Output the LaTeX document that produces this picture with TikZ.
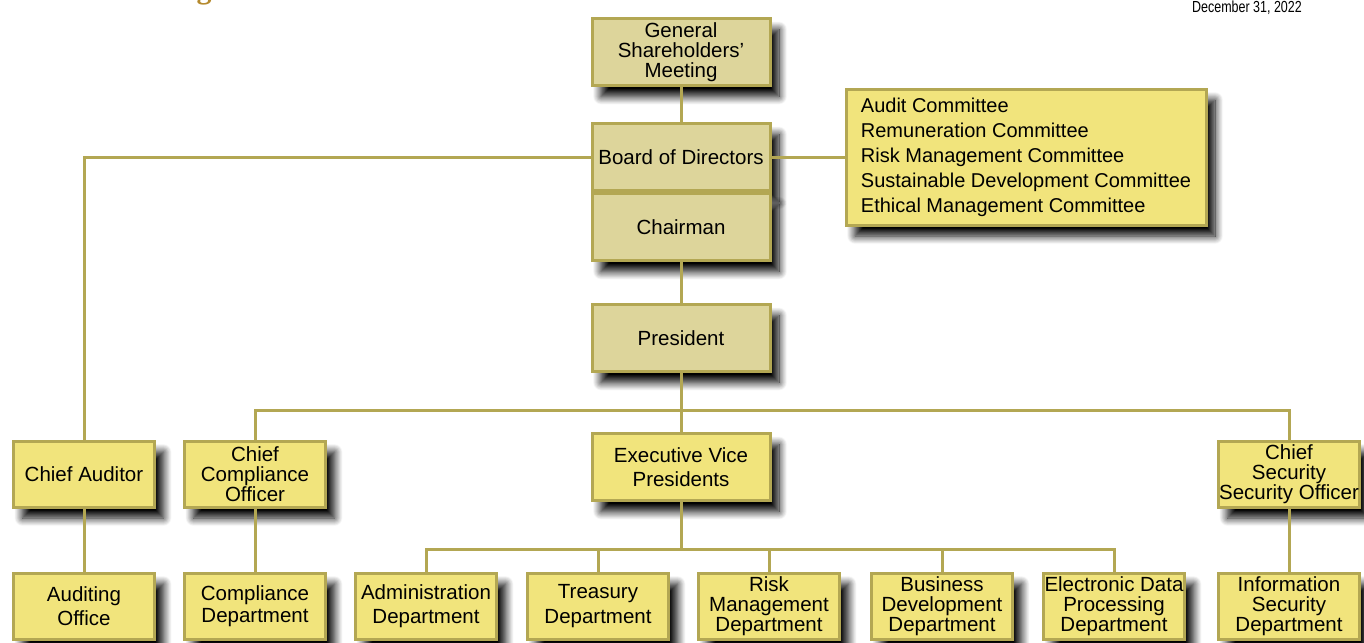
\documentclass[tikz,border=0pt]{standalone}
\usepackage{fontspec}
\setmainfont{Liberation Sans}
\newfontfamily\headfont{Liberation Serif}
\usetikzlibrary{shadows.blur}
\definecolor{boxYellow}{HTML}{F1E47C}
\definecolor{boxTan}{HTML}{DDD59B}
\definecolor{boxEdge}{HTML}{B3A753}
\definecolor{headGold}{HTML}{B58A2E}

\begin{document}
\begin{tikzpicture}[x = 1pt, y = -1pt,
		unit/.style = {draw = boxEdge, line width = 3pt, fill = boxYellow, inner sep = 0pt, align = center,
			font = \fontsize{20.5}{24.5}\selectfont,
			blur shadow = {shadow xshift = 9pt, shadow yshift = -11pt, shadow blur radius = 8pt, shadow blur steps = 14, shadow opacity = 100}},
		wide/.style = {unit, minimum width = 178pt, minimum height = 67pt},
		top/.style = {wide, fill = boxTan},
		dept/.style = {unit, minimum width = 141pt, minimum height = 66pt},
		tight/.style = {font = \fontsize{20.5}{20}\selectfont},
		link/.style = {draw = boxEdge, line width = 3pt}]
		\useasboundingbox (0, 0) rectangle (1364, 642);
		%%%%%%%%%%%%%
		\node [anchor = base, inner sep = 0pt, text = headGold, font = \headfont\bfseries\fontsize{30}{30}\selectfont] (head) at (204, -1) {g};
		\node [anchor = north east, inner sep = 0pt, font = \fontsize{16}{16}\selectfont] (date) at (1302, 1) {\scalebox{0.78}[1]{December 31, 2022}};
		%%%%%%%%%%%%%
		\node [top, tight] (gsm) at (681, 52) {General\\Shareholders'\\Meeting};
		\node [top] (board) at (681, 157) {Board of Directors};
		\node [top] (chair) at (681, 227) {Chairman};
		\node [top] (pres) at (681, 338) {President};
		\node [unit, minimum width = 360pt, minimum height = 136pt, align = left, font = \fontsize{20}{25}\selectfont] (comm) at (1026, 157) {Audit Committee\\Remuneration Committee\\Risk Management Committee\\Sustainable Development Committee\\Ethical Management Committee};
		%%%%%%%%%%%%%
		\node [dept] (audit) at (84, 474) {Chief Auditor};
		\node [dept, tight] (cco) at (255, 474) {Chief\\Compliance\\Officer};
		\node [wide] (evp) at (681, 467) {Executive Vice\\Presidents};
		\node [dept, tight] (cso) at (1289, 474) {Chief\\Security\\Security Officer};
		%%%%%%%%%%%%%
		\node [dept] (audoff) at (84, 606) {Auditing\\Office};
		\node [dept, font = \fontsize{20.5}{22}\selectfont] (compl) at (255, 606) {Compliance\\Department};
		\node [dept] (admin) at (426, 606) {Administration\\Department};
		\node [dept] (treas) at (598, 606) {Treasury\\Department};
		\node [dept, tight] (risk) at (769, 606) {Risk\\Management\\Department};
		\node [dept, tight] (busdev) at (942, 606) {Business\\Development\\Department};
		\node [dept, tight] (edp) at (1114, 606) {Electronic Data\\Processing\\Department};
		\node [dept, tight] (infosec) at (1289, 606) {Information\\Security\\Department};
		%%%%%%%%%%%%%
		\coordinate (presbus) at (681, 410);
		\coordinate (evpbus) at (681, 549);
		%%%%%%%%%%%%%
		\draw [link] (gsm) to (board);
		\draw [link] (board) -| (audit); \draw [link] (board) to (comm);
		\draw [link] (chair) to (pres);
		\draw [link] (pres) to (evp);
		\draw [link] (cco) |- (presbus) -| (cso);
		\draw [link] (evp) to (evpbus);
		\draw [link] (admin) |- (evpbus) -| (edp);
		\draw [link] (treas) to (treas |- evpbus); \draw [link] (risk) to (risk |- evpbus); \draw [link] (busdev) to (busdev |- evpbus);
		\draw [link] (audit) to (audoff); \draw [link] (cco) to (compl); \draw [link] (cso) to (infosec);
\end{tikzpicture}
\end{document}
